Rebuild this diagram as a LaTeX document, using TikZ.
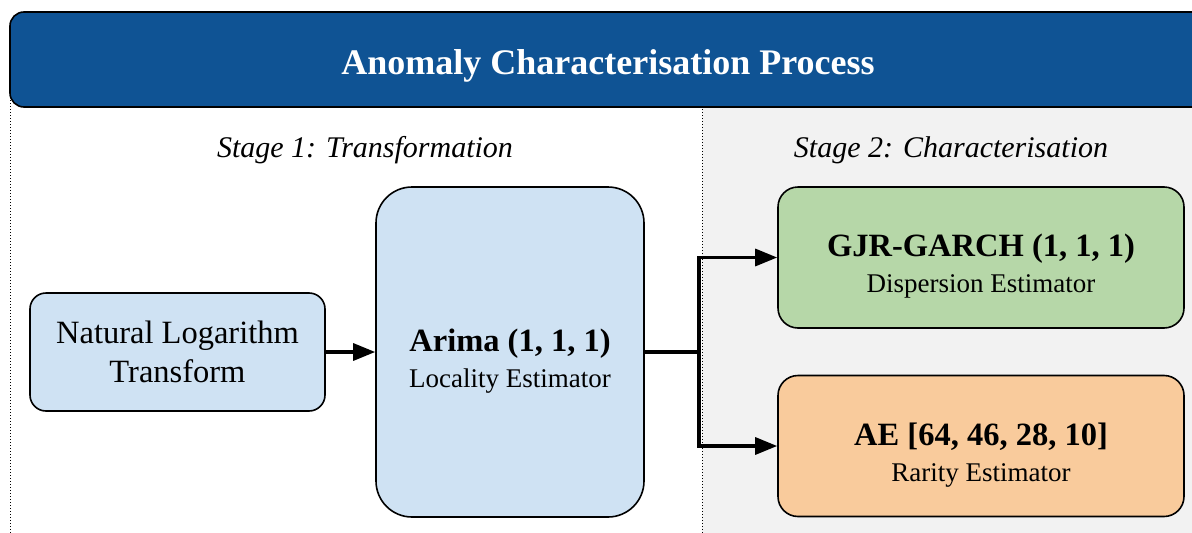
\documentclass[tikz,border=0pt]{standalone}
\usepackage{fontspec}
\setmainfont{Liberation Serif}
\usetikzlibrary{arrows.meta}
\definecolor{hdrblue}{HTML}{0F5394}
\definecolor{boxblue}{HTML}{CFE2F3}
\definecolor{boxgreen}{HTML}{B6D7A8}
\definecolor{boxorange}{HTML}{F9CB9C}
\definecolor{panelgray}{HTML}{F2F2F2}
\tikzset{
  procbox/.style={draw=black, line width=1.6pt, align=center, inner sep=0pt},
  estbox/.style={procbox, font=\fontsize{27}{36}\selectfont},
  flow/.style={line width=3.2pt, -{Triangle[length=22pt,width=17pt]}},
  plainflow/.style={line width=3.2pt},
  divider/.style={line width=1pt, dotted},
  stagelabel/.style={font=\itshape\fontsize{30}{36}\selectfont, anchor=base},
}
\newcommand{\boxhead}[1]{{\bfseries\fontsize{32.5}{36}\selectfont\rule{0pt}{40pt}#1}}
\begin{document}
\begin{tikzpicture}[x=1pt,y=-1pt]
\useasboundingbox (0,0) rectangle (1192,533);
\clip (0,0) rectangle (1192,533);
% right panel background
\fill[panelgray] (702,100) rectangle (1192,533);
% dividers
\draw[divider] (10,100) -- (10,533);
\draw[divider] (702,100) -- (702,533);
% header
\node[draw=black, line width=1.6pt, fill=hdrblue, rounded corners=14pt,
      minimum width=1196pt, minimum height=95pt, inner sep=0pt,
      text height=29pt, text depth=0pt,
      text=white, font=\bfseries\fontsize{36}{42}\selectfont]
      (header) at (608,59.5) {Anomaly Characterisation Process};
% stage labels
\node[stagelabel] (stage1) at (365,157) {Stage 1: Transformation};
\node[stagelabel] (stage2) at (951,157) {Stage 2: Characterisation};
% boxes
\node[procbox, fill=boxblue, rounded corners=16pt, minimum width=295pt, minimum height=118pt,
      font=\fontsize{32.5}{39}\selectfont]
      (ln) at (177.5,352) {Natural Logarithm\\Transform};
\node[estbox, fill=boxblue, rounded corners=36pt, minimum width=268pt, minimum height=330pt]
      (arima) at (510,352) {\boxhead{Arima (1, 1, 1)}\\Locality Estimator};
\node[estbox, fill=boxgreen, rounded corners=20pt, minimum width=406pt, minimum height=141pt]
      (garch) at (981,257.5) {\boxhead{GJR-GARCH (1, 1, 1)}\\Dispersion Estimator};
\node[estbox, fill=boxorange, rounded corners=20pt, minimum width=406pt, minimum height=141pt]
      (ae) at (981,446) {\boxhead{AE [64, 46, 28, 10]}\\Rarity Estimator};
% connectors
\coordinate (split) at (699,352);
\draw[flow] (ln.east) -- (arima.west);
\draw[plainflow] (arima.east) -- (split);
\draw[flow] (split) -- (split |- garch.west) -- (garch.west);
\draw[flow] (split) -- (split |- ae.west) -- (ae.west);
\end{tikzpicture}
\end{document}
